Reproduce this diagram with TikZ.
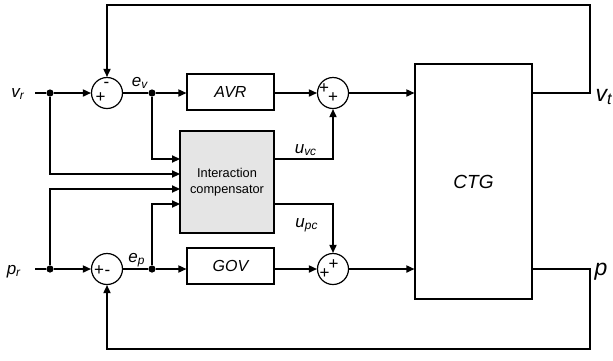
\documentclass[tikz,border=0pt]{standalone}
\usepackage{fontspec}
\setmainfont{Liberation Sans}
\usetikzlibrary{arrows.meta}
\tikzset{
  blk/.style={draw=black, line width=0.6pt, align=center, inner sep=1pt, minimum width=43.5pt, minimum height=18pt, font=\fontsize{8}{10}\selectfont\itshape},
  sumc/.style={draw=black, line width=0.6pt, circle, inner sep=0pt, minimum size=15.5pt},
  jdot/.style={fill=black, circle, inner sep=0pt, minimum size=3.6pt},
  sgn/.style={inner sep=0pt, font=\fontsize{8.5}{9}\selectfont},
  lbl/.style={inner sep=0pt, font=\fontsize{8.5}{10}\selectfont\itshape},
  big/.style={inner sep=0pt, font=\fontsize{11.5}{13}\selectfont\itshape},
  arr/.style={-{Triangle[length=4pt,width=3.6pt]}, line width=0.6pt},
  ln/.style={line width=0.6pt}
}
\begin{document}
\begin{tikzpicture}[x=0.5pt,y=-0.5pt]
\useasboundingbox (0,0) rectangle (613,360);
% voltage row
\node[lbl] (vr) at (18,94) {v\textsubscript{r}};
\coordinate (vrin) at (35,93);
\node[jdot] (d1) at (50,93) {};
\node[sumc] (s1) at (107,93) {};
\node[sgn] (s1a) at (106.5,84.5) {-};
\node[sgn] (s1b) at (100.5,97.5) {+};
\node[lbl] (ev) at (140,83) {e\textsubscript{v}};
\node[jdot] (d2) at (152,93) {};
\node[blk] (avr) at (230.5,92) {AVR};
\node[sumc] (s2) at (333,93) {};
\node[sgn] (s2a) at (324,89) {+};
\node[sgn] (s2b) at (333,97.5) {+};
% power row
\node[lbl] (pr) at (14,272) {p\textsubscript{r}};
\coordinate (prin) at (35,269);
\node[jdot] (d3) at (50,269) {};
\node[sumc] (s4) at (107,269) {};
\node[sgn] (s4a) at (99,271) {+};
\node[sgn] (s4b) at (107.5,273) {-};
\node[lbl] (ep) at (137,260) {e\textsubscript{p}};
\node[jdot] (d4) at (152,269) {};
\node[blk] (gov) at (230.5,266) {GOV};
\node[sumc] (s3) at (333,269) {};
\node[sgn] (s3a) at (333.5,265) {+};
\node[sgn] (s3b) at (324.5,274) {+};
% compensator and plant
\node[blk, fill=black!10, minimum width=47pt, minimum height=51pt, font=\fontsize{6.4}{8}\selectfont] (comp) at (227,182) {Interaction\\compensator};
\node[blk, minimum width=58.5pt, minimum height=117.5pt, font=\fontsize{9.5}{11}\selectfont\itshape] (ctg) at (473.5,181.5) {CTG};
\coordinate (i1) at (180,159);
\coordinate (i2) at (180,174);
\coordinate (i3) at (180,189);
\coordinate (i4) at (180,204);
\coordinate (o1) at (274,159);
\coordinate (o2) at (274,204);
\node[lbl] (uvc) at (306,150) {u\textsubscript{vc}};
\node[lbl] (upc) at (307,225) {u\textsubscript{pc}};
\coordinate (vt) at (590,93);
\coordinate (fbt) at (590,5);
\coordinate (pt) at (590,269);
\coordinate (fbp) at (590,349);
\node[big] (vtl) at (604,97) {v\textsubscript{t}};
\node[big] (pl) at (601,272) {p};
% connections
\draw[ln] (vrin) -- (d1);
\draw[arr] (d1) -- (s1);
\draw[ln] (s1) -- (d2);
\draw[arr] (d2) -- (d2 -| avr.west);
\draw[arr] (avr.east |- s2) -- (s2);
\draw[arr] (s2) -- (ctg.west |- s2);
\draw[ln] (prin) -- (d3);
\draw[arr] (d3) -- (s4);
\draw[ln] (s4) -- (d4);
\draw[arr] (d4) -- (d4 -| gov.west);
\draw[arr] (gov.east |- s3) -- (s3);
\draw[arr] (s3) -- (ctg.west |- s3);
\draw[arr] (d2) |- (i1);
\draw[arr] (d1) |- (i2);
\draw[arr] (d3) |- (i3);
\draw[arr] (d4) |- (i4);
\draw[arr] (o1) -| (s2);
\draw[arr] (o2) -| (s3);
\draw[arr] (ctg.east |- vt) -- (vt) -- (fbt) -| (s1);
\draw[arr] (ctg.east |- pt) -- (pt) -- (fbp) -| (s4);
\end{tikzpicture}
\end{document}
